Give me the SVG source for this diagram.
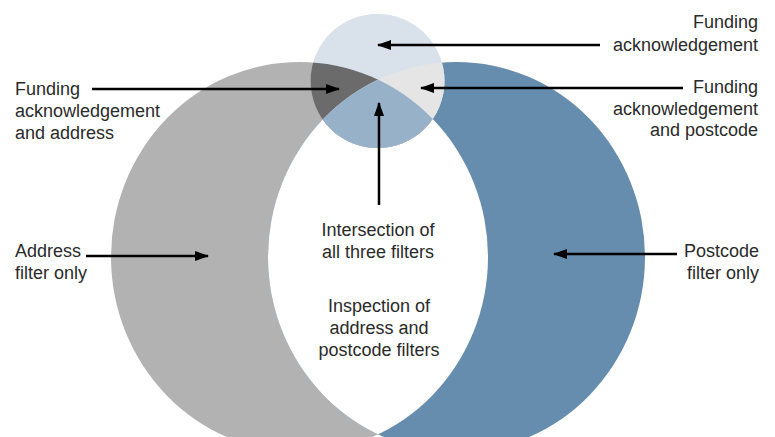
<svg xmlns="http://www.w3.org/2000/svg" width="775" height="437" viewBox="0 0 775 437">
  <style>
    .lbl { font-family: "Liberation Sans", Arial, sans-serif; font-size: 18px; fill: #2a2a2a; }
    .end { text-anchor: end; }
    .mid { text-anchor: middle; }
    .arrow { stroke: #000; stroke-width: 2.5; fill: none; marker-end: url(#ah); }
  </style>
  <defs>
    <marker id="ah" viewBox="0 0 14 10" refX="13" refY="5" markerWidth="14" markerHeight="10" markerUnits="userSpaceOnUse" orient="auto">
      <path d="M0,0 L14,5 L0,10 Z" fill="#000"/>
    </marker>
    <clipPath id="clipL"><ellipse cx="299.5" cy="257" rx="188.5" ry="195"/></clipPath>
    <clipPath id="clipR"><ellipse cx="456.5" cy="257" rx="188.5" ry="195"/></clipPath>
  </defs>

  <rect width="775" height="437" fill="#fff"/>

  <g id="address-circle">
    <ellipse cx="299.5" cy="257" rx="188.5" ry="195" fill="#b2b2b2"/>
  </g>
  <g id="postcode-circle">
    <ellipse cx="456.5" cy="257" rx="188.5" ry="195" fill="#668dad"/>
  </g>
  <g id="address-postcode-lens">
    <ellipse cx="456.5" cy="257" rx="188.5" ry="195" fill="#fff" clip-path="url(#clipL)"/>
  </g>
  <g id="funding-circle">
    <circle cx="377.5" cy="81" r="67" fill="#d9e1eb"/>
    <circle cx="377.5" cy="81" r="67" fill="#6b6b6b" clip-path="url(#clipL)"/>
    <circle cx="377.5" cy="81" r="67" fill="#e5e5e5" clip-path="url(#clipR)"/>
    <g clip-path="url(#clipL)">
      <circle cx="377.5" cy="81" r="67" fill="#97b1c8" clip-path="url(#clipR)"/>
    </g>
  </g>

  <g id="connectors">
    <line class="arrow" x1="600" y1="45" x2="378" y2="45"/>
    <line class="arrow" x1="92" y1="89" x2="339" y2="89"/>
    <line class="arrow" x1="683" y1="88" x2="421" y2="88"/>
    <line class="arrow" x1="379" y1="205" x2="379" y2="103"/>
    <line class="arrow" x1="86" y1="256" x2="208" y2="256"/>
    <line class="arrow" x1="677" y1="254" x2="554" y2="254"/>
  </g>

  <g id="label-funding">
    <text class="lbl end" x="758" y="28">Funding</text>
    <text class="lbl end" x="758" y="51">acknowledgement</text>
  </g>
  <g id="label-funding-address">
    <text class="lbl" x="15" y="95">Funding</text>
    <text class="lbl" x="15" y="117">acknowledgement</text>
    <text class="lbl" x="15" y="139">and address</text>
  </g>
  <g id="label-funding-postcode">
    <text class="lbl end" x="758" y="93">Funding</text>
    <text class="lbl end" x="758" y="115">acknowledgement</text>
    <text class="lbl end" x="758" y="136">and postcode</text>
  </g>
  <g id="label-address">
    <text class="lbl" x="15" y="257">Address</text>
    <text class="lbl" x="15" y="279">filter only</text>
  </g>
  <g id="label-postcode">
    <text class="lbl end" x="759" y="257">Postcode</text>
    <text class="lbl end" x="759" y="279">filter only</text>
  </g>
  <g id="label-intersection">
    <text class="lbl mid" x="378" y="236">Intersection of</text>
    <text class="lbl mid" x="378" y="258">all three filters</text>
  </g>
  <g id="label-inspection">
    <text class="lbl mid" x="379" y="312">Inspection of</text>
    <text class="lbl mid" x="379" y="334">address and</text>
    <text class="lbl mid" x="379" y="356">postcode filters</text>
  </g>
</svg>
